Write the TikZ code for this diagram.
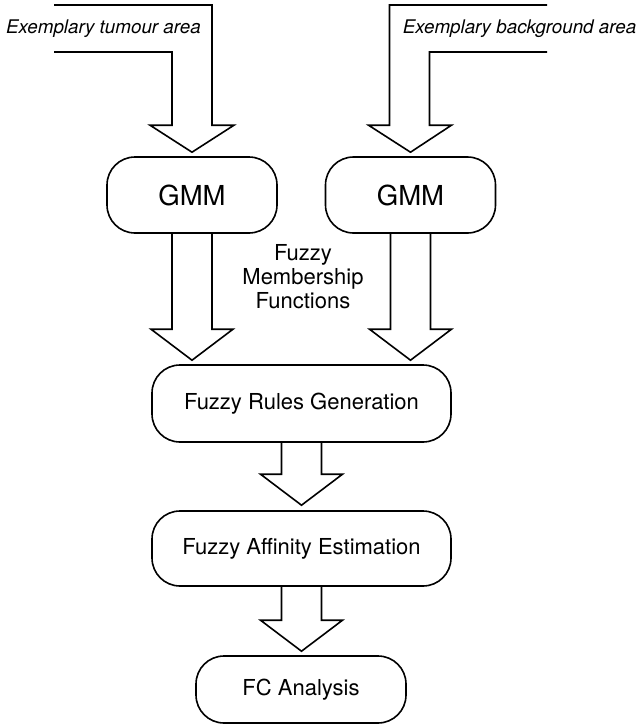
\documentclass[tikz,border=0pt]{standalone}
\usepackage{fontspec}
\setmainfont{TeX Gyre Heros}
\usepackage{tikz}
\usetikzlibrary{calc}
\usetikzlibrary{positioning}

\tikzset{
  box/.style={draw,line width=1.6pt,rounded corners=28pt,align=center,
    font=\fontsize{22}{25}\selectfont},
  gmmbox/.style={box,minimum width=170pt,minimum height=76pt,
    font=\fontsize{27.5}{30}\selectfont},
  fat/.style={draw,line width=1.6pt,line join=miter},
  area/.style={font=\fontsize{18.8}{22}\selectfont\itshape}
}

% fat block arrow: #1 top of the shaft, #2 tip
\newcommand{\fatarrow}[2]{%
  \path [fat] let \p1=(#1), \p2=(#2) in
    (\x2-20pt,\y1) -- (\x2-20pt,\y2+31pt) -- (\x2-41pt,\y2+31pt) -- (\x2,\y2)
    -- (\x2+41pt,\y2+31pt) -- (\x2+20pt,\y2+31pt) -- (\x2+20pt,\y1);}

\begin{document}
\begin{tikzpicture}[x=1pt,y=1pt]
  \useasboundingbox (0,0) rectangle (639,-725);

  \node [gmmbox] (gmm_t) at (192,-195) {GMM};
  \node [gmmbox] (gmm_b) at (410.5,-195) {GMM};

  \node [box,minimum width=299pt,minimum height=77pt] (rules) at (301.5,-403.5) {Fuzzy Rules Generation};
  \node [box,minimum width=299pt,minimum height=75pt] (affinity) at (301.5,-548.5) {Fuzzy Affinity Estimation};
  \node [box,minimum width=210pt,minimum height=67pt] (fc) at (301,-689.5) {FC Analysis};

  \node [align=center,font=\fontsize{22}{24}\selectfont] (fmf) at (303,-277) {Fuzzy\\Membership\\Functions};

  \node [area] (in_t) at (103.5,-29) {Exemplary tumour area};
  \node [area] (in_b) at (519.5,-29) {Exemplary background area};

  \coordinate (feed_t) at (54,-5);
  \coordinate (feed_b) at (547,-5);

  % input chutes
  \path [fat] let \p1=(gmm_t.north), \p2=(feed_t) in
    (\x2,\y2-47pt) -- (\x1-20pt,\y2-47pt) -- (\x1-20pt,\y1+31pt) -- (\x1-42pt,\y1+31pt)
    -- (\x1,\y1+4pt) -- (\x1+42pt,\y1+31pt) -- (\x1+20pt,\y1+31pt) -- (\x1+20pt,\y2) -- (\x2,\y2);
  \path [fat] let \p1=(gmm_b.north), \p2=(feed_b) in
    (\x2,\y2-47pt) -- (\x1+19pt,\y2-47pt) -- (\x1+19pt,\y1+31pt) -- (\x1+41pt,\y1+31pt)
    -- (\x1,\y1+4pt) -- (\x1-42pt,\y1+31pt) -- (\x1-21pt,\y1+31pt) -- (\x1-21pt,\y2) -- (\x2,\y2);

  \fatarrow{gmm_t.south}{$(gmm_t.south |- rules.north)+(0,4)$}
  \fatarrow{gmm_b.south}{$(gmm_b.south |- rules.north)+(0,4)$}
  \fatarrow{rules.south}{$(rules.south |- affinity.north)+(0,5)$}
  \fatarrow{affinity.south}{$(affinity.south |- fc.north)+(0,4)$}
\end{tikzpicture}
\end{document}
